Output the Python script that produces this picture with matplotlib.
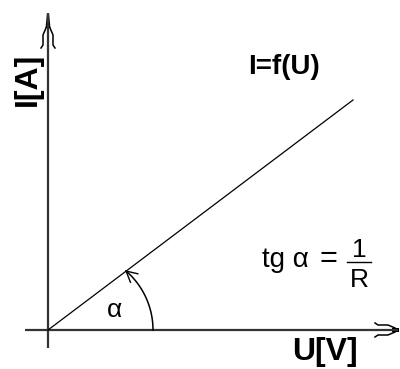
import numpy as np
import matplotlib
matplotlib.use("Agg")
import matplotlib.pyplot as plt

# Linear current-voltage characteristic I = f(U) of a resistor
voltage = [0, 305]
current = [0, 230]

axis_labels = {"x": "U[V]", "y": "I[A]"}
curve_label = "I=f(U)"

fig = plt.figure(figsize=(4.0, 3.69), dpi=100)
ax = fig.add_axes([0, 0, 1, 1])
ax.set_xlim(-48, 352)
ax.set_ylim(-39, 330)
ax.axis("off")

axis_kw = dict(color="#333333", lw=1.6, solid_capstyle="butt")
ink = "black"

# coordinate axes
ax.plot([-23, 350], [0, 0], **axis_kw)
ax.plot([0, 0], [-18, 317], **axis_kw)

# arrowhead on the U axis
ax.fill([344, 351, 351, 344], [-2, -2, 2, 2], color=ink, lw=0)
for s in (1, -1):
    ax.plot([327, 330, 340, 347], [s * 7, s * 5, s * 5, s * 2], color=ink, lw=1.1)

# arrowhead on the I axis
ax.fill([-2.5, 2.5, 1, -1], [302, 302, 317, 317], color=ink, lw=0)
for s in (1, -1):
    ax.plot([s * 7, s * 5, s * 5, s * 2], [282, 285, 295, 302], color=ink, lw=1.1)

# characteristic line
ax.plot(voltage, current, color=ink, lw=0.9)

# angle arc between U axis and the line
slope = current[1] / voltage[1]
cx, r = 27.0, 78.0
a_, b_, c_ = 1 + slope ** 2, -2 * cx, cx ** 2 - r ** 2
u_hit = (-b_ + np.sqrt(b_ ** 2 - 4 * a_ * c_)) / (2 * a_)
i_hit = slope * u_hit
t_end = np.arctan2(i_hit, u_hit - cx)
t = np.linspace(0, t_end, 60)
ax.plot(cx + r * np.cos(t), r * np.sin(t), color=ink, lw=1.1)

# open arrowhead at the end of the arc
back = np.array([np.sin(t_end), -np.cos(t_end)])
for ang in (np.radians(28), np.radians(-28)):
    rot = np.array([[np.cos(ang), -np.sin(ang)], [np.sin(ang), np.cos(ang)]])
    d = rot @ back
    ax.plot([u_hit, u_hit + 12 * d[0]], [i_hit, i_hit + 12 * d[1]], color=ink, lw=1.0)

# labels
bold = dict(family="Liberation Sans", weight="bold", color=ink)
ax.text(236, 263, curve_label, fontsize=20, ha="center", va="center", **bold)
ax.text(-20, 251, axis_labels["y"], fontsize=23, ha="center", va="center",
        rotation=90, **bold)
ax.text(277, -22, axis_labels["x"], fontsize=23, ha="center", va="center", **bold)

reg = dict(family="Liberation Sans", color=ink)
ax.text(67, 20, "α", fontsize=19, ha="center", va="center", **reg)
ax.text(214, 63, "tg α", fontsize=20, ha="left", va="baseline", **reg)
ax.text(280, 63, "=", fontsize=22, ha="center", va="baseline", **reg)
ax.text(311, 73, "1", fontsize=19, ha="center", va="baseline", **reg)
ax.plot([299, 323], [68, 68], color=ink, lw=1.0)
ax.text(311, 43, "R", fontsize=19, ha="center", va="baseline", **reg)

fig.savefig("out.png", dpi=100, facecolor="white")
